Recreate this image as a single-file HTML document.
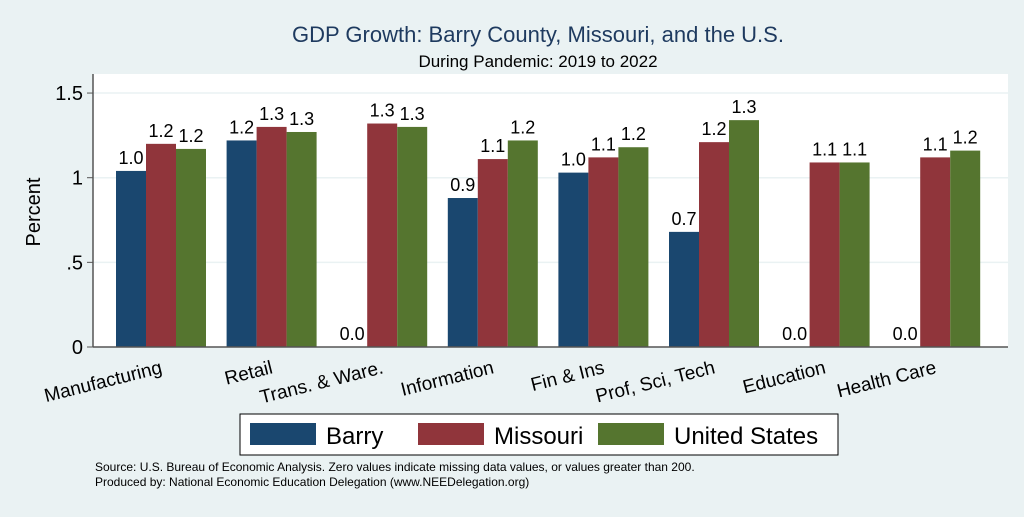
<!DOCTYPE html>
<html><head><meta charset="utf-8"><style>
body{margin:0;background:#eaf2f3;font-family:"Liberation Sans",sans-serif}
svg text{font-family:"Liberation Sans",sans-serif}
</style></head><body>
<svg width="1024" height="512" xmlns="http://www.w3.org/2000/svg">
<rect width="1024" height="512" fill="#eaf2f3"/>
<text x="538" y="42" font-size="22" fill="#1e3a5f" text-anchor="middle">GDP Growth: Barry County, Missouri, and the U.S.</text>
<text x="538" y="67" font-size="17" fill="#000" text-anchor="middle">During Pandemic: 2019 to 2022</text>
<rect x="93" y="74" width="915" height="273" fill="#fff"/>
<g id="grid"></g><g id="bars"></g><g id="axis"></g>
<text transform="translate(40,212) rotate(-90)" font-size="20" text-anchor="middle">Percent</text>
<g>
<rect x="240" y="414" width="598" height="41" fill="#fff" stroke="#000" stroke-width="1"/>
<rect x="250" y="423" width="66" height="22" fill="#1a476f"/>
<text x="326" y="444" font-size="24">Barry</text>
<rect x="418" y="423" width="66" height="22" fill="#90353b"/>
<text x="494" y="444" font-size="24">Missouri</text>
<rect x="598" y="423" width="66" height="22" fill="#55752f"/>
<text x="674" y="444" font-size="24">United States</text>
</g>
<text x="95" y="471" font-size="12">Source: U.S. Bureau of Economic Analysis. Zero values indicate missing data values, or values greater than 200.</text>
<text x="95" y="486" font-size="12">Produced by: National Economic Education Delegation (www.NEEDelegation.org)</text>
</svg>
<script>
const categories=["Manufacturing","Retail","Trans. & Ware.","Information","Fin & Ins","Prof, Sci, Tech","Education","Health Care"];
const barry=[1.04,1.22,0,0.88,1.03,0.68,0,0];
const missouri=[1.20,1.30,1.32,1.11,1.12,1.21,1.09,1.12];
const us=[1.17,1.27,1.30,1.22,1.18,1.34,1.09,1.16];
const yTicks=[0,0.5,1,1.5];
const yTickLabels=["0",".5","1","1.5"];
const NS="http://www.w3.org/2000/svg";
function y(v){return 347-v*169.3;}
function gx(i){return 116+i*110.6;}
const grid=document.getElementById('grid'),bars=document.getElementById('bars'),axis=document.getElementById('axis');
function mk(tag,attrs,parent){const e=document.createElementNS(NS,tag);for(const k in attrs)e.setAttribute(k,attrs[k]);parent.appendChild(e);return e;}
yTicks.forEach((t,i)=>{
 if(t>0){const g=mk('line',{x1:93,x2:1008,y1:y(t),y2:y(t),stroke:'#eaf2f3','stroke-width':1.5},grid);
 
 }
 const tk=mk('line',{x1:87,x2:93,y1:y(t),y2:y(t),stroke:'#555'},axis);
 
 
 const tl=mk('text',{x:83,y:y(t)+7,'font-size':20,'text-anchor':'end'},axis);
 tl.textContent=yTickLabels[i];
 
 
});
const series=[[barry,'#1a476f','barry'],[missouri,'#90353b','missouri'],[us,'#55752f','us']];
categories.forEach((c,i)=>{
 series.forEach(([arr,col,nm],s)=>{
  const v=arr[i],x=gx(i)+s*30;
  const r=mk('rect',{x:x,y:y(v),width:30,height:347-y(v),fill:col},bars);
  
  
  const t=mk('text',{x:x+15,y:y(v)-7,'font-size':18,'text-anchor':'middle'},bars);
  t.textContent=v.toFixed(1);
  
  
 });
 const cx=gx(i)+47;
 const l=mk('text',{x:0,y:0,'font-size':19,'text-anchor':'end',transform:`translate(${cx},373) rotate(-14)`},axis);
 l.textContent=c;
 
 
});
const ya=mk('line',{x1:93,x2:93,y1:74,y2:347,stroke:'#555','stroke-width':1.5},axis);


const xa=mk('line',{x1:93,x2:1008,y1:347,y2:347,stroke:'#555','stroke-width':1.5},axis);


</script>
</body></html>
